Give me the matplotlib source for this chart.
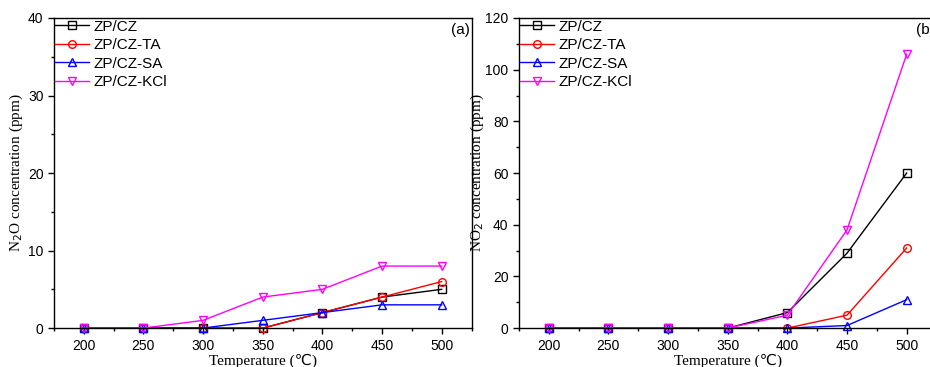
import matplotlib
matplotlib.use('Agg')
import matplotlib.pyplot as plt
from matplotlib.ticker import MultipleLocator

plt.rcParams['font.family'] = ['Liberation Sans', 'DejaVu Sans']

#Data
temps = [200, 250, 300, 350, 400, 450, 500]
labels = ['ZP/CZ', 'ZP/CZ-TA', 'ZP/CZ-SA', 'ZP/CZ-KCl']
n2o_cz = [0, 0, 0, 0, 2, 4, 5]
n2o_ta = [0, 0, 0, 0, 2, 4, 6]
n2o_sa = [0, 0, 0, 1, 2, 3, 3]
n2o_kcl = [0, 0, 1, 4, 5, 8, 8]
no2_cz = [0, 0, 0, 0, 6, 29, 60]
no2_ta = [0, 0, 0, 0, 0, 5, 31]
no2_sa = [0, 0, 0, 0, 0, 1, 11]
no2_kcl = [0, 0, 0, 0, 5, 38, 106]

colors = ['black', 'red', 'blue', 'magenta']
markers = ['s', 'o', '^', 'v']

fig = plt.figure(figsize=(9.3, 3.67), dpi=100)
ax0 = fig.add_axes([0.058, 0.106, 0.449, 0.845])
ax1 = fig.add_axes([0.558, 0.106, 0.449, 0.845])

serif = ['Liberation Serif', 'DejaVu Sans']

def style(ax, ymax, ymaj, ymin):
    ax.set_xlim(175, 525)
    ax.set_ylim(0, ymax)
    ax.xaxis.set_major_locator(MultipleLocator(50))
    ax.xaxis.set_minor_locator(MultipleLocator(25))
    ax.yaxis.set_major_locator(MultipleLocator(ymaj))
    ax.yaxis.set_minor_locator(MultipleLocator(ymin))
    ax.tick_params(which='major', direction='out', length=4, width=1, labelsize=10)
    ax.tick_params(which='minor', direction='out', length=2.5, width=1)
    for s in ax.spines.values():
        s.set_linewidth(1)
    ax.set_xlabel('Temperature (℃)', family=serif, fontsize=11, labelpad=1)

style(ax0, 40, 10, 5)
style(ax1, 120, 20, 10)

for ys, lab, c, m in zip([n2o_cz, n2o_ta, n2o_sa, n2o_kcl], labels, colors, markers):
    ax0.plot(temps, ys, color=c, marker=m, mfc='none', mec=c, ms=5.5, lw=1, label=lab, clip_on=False)
for ys, lab, c, m in zip([no2_cz, no2_ta, no2_sa, no2_kcl], labels, colors, markers):
    ax1.plot(temps, ys, color=c, marker=m, mfc='none', mec=c, ms=5.5, lw=1, label=lab, clip_on=False)

ax0.set_ylabel('N$_2$O concentration (ppm)', family=serif, fontsize=11)
ax1.set_ylabel('NO$_2$ concentration (ppm)', family=serif, fontsize=11)
ax0.yaxis.set_label_coords(-0.07, 0.5)
ax1.yaxis.set_label_coords(-0.08, 0.5)

for ax in (ax0, ax1):
    ax.legend(loc='upper left', frameon=False, fontsize=11, handlelength=2.2,
              handletextpad=0.3, labelspacing=0.3, borderaxespad=0.0,
              borderpad=0.1)

ax0.text(0.995, 0.985, '(a)', transform=ax0.transAxes, ha='right', va='top', fontsize=11)
ax1.text(0.995, 0.985, '(b)', transform=ax1.transAxes, ha='right', va='top', fontsize=11)

plt.savefig('out.png', dpi=100)
